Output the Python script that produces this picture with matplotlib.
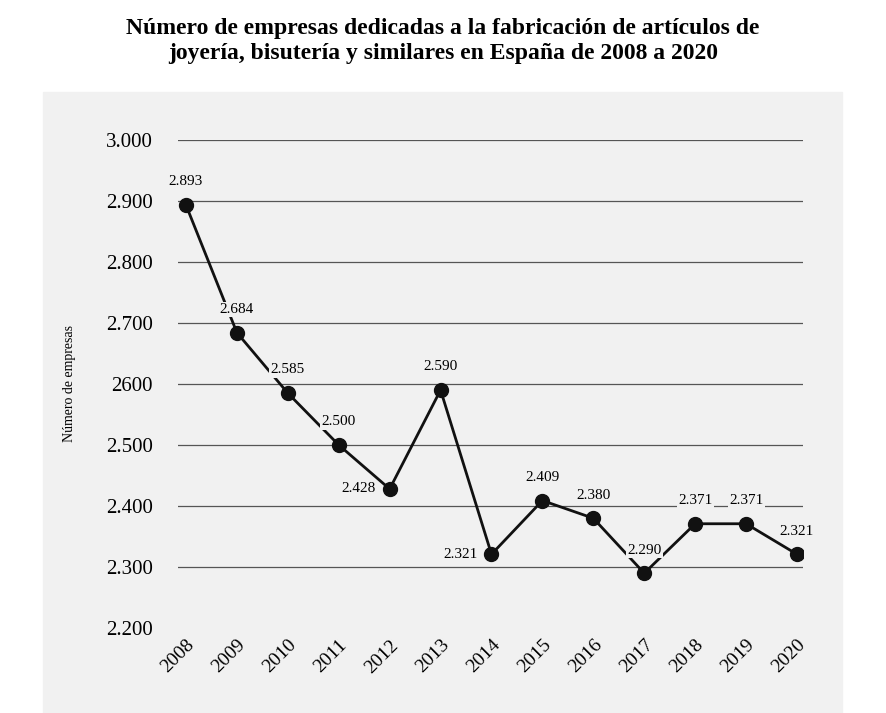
import matplotlib.pyplot as plt
from matplotlib.patches import Rectangle

years = list(range(2008, 2021))
values = [2893, 2684, 2585, 2500, 2428, 2590, 2321, 2409, 2380, 2290, 2371, 2371, 2321]
labels = ["2.893", "2.684", "2.585", "2.500", "2.428", "2.590", "2.321",
          "2.409", "2.380", "2.290", "2.371", "2.371", "2.321"]
# labels placed left-below the point instead of above
below_left = {2012, 2014}
yticks = [2200, 2300, 2400, 2500, 2600, 2700, 2800, 2900, 3000]
ytick_labels = ["2.200", "2.300", "2.400", "2.500", "2600", "2.700", "2.800", "2.900", "3.000"]

plt.rcParams['font.family'] = ['Liberation Serif', 'DejaVu Serif']
bg = '#f1f1f1'

fig = plt.figure(figsize=(8.86, 7.13), dpi=100)
fig.patches.append(Rectangle((43 / 886, 0), 799 / 886, 1 - 92 / 713,
                             transform=fig.transFigure, color=bg, zorder=-5))
fig.text(0.5, 0.975, "Número de empresas dedicadas a la fabricación de artículos de\n"
         "joyería, bisutería y similares en España de 2008 a 2020",
         ha='center', va='top', fontsize=17, fontweight='bold', linespacing=1.25)

ax = fig.add_axes([178 / 886, 0.119, 625 / 886, 0.685], zorder=2)
ax.set_facecolor(bg)
for s in ax.spines.values():
    s.set_visible(False)
for y in yticks[1:]:
    ax.axhline(y, color='#555555', lw=0.9, zorder=1)

ax.plot(years, values, color='#111111', lw=2, marker='o', ms=10, zorder=3)
for x, v, t in zip(years, values, labels):
    if x in below_left:
        ax.annotate(t, (x, v), xytext=(-10, 0), textcoords='offset points',
                    ha='right', va='center', fontsize=11, zorder=4,
                    bbox=dict(facecolor=bg, edgecolor='none', pad=1))
    else:
        ax.annotate(t, (x, v), xytext=(0, 12), textcoords='offset points',
                    ha='center', va='bottom', fontsize=11, zorder=4,
                    bbox=dict(facecolor=bg, edgecolor='none', pad=1))

ax.set_xlim(2008 - 0.157, 2020 + 0.118)
ax.set_ylim(2200, 3000)
ax.set_yticks(yticks)
ax.set_yticklabels(ytick_labels, fontsize=15)
ax.set_xticks(years)
ax.set_xticklabels([str(y) for y in years], rotation=45, ha='right',
                   rotation_mode='anchor', fontsize=14)
ax.tick_params(length=0, pad=18, axis='y')
ax.tick_params(length=0, pad=6, axis='x')
ax.set_ylabel("Número de empresas", fontsize=10, labelpad=22)

fig.savefig('out.png', dpi=100)
